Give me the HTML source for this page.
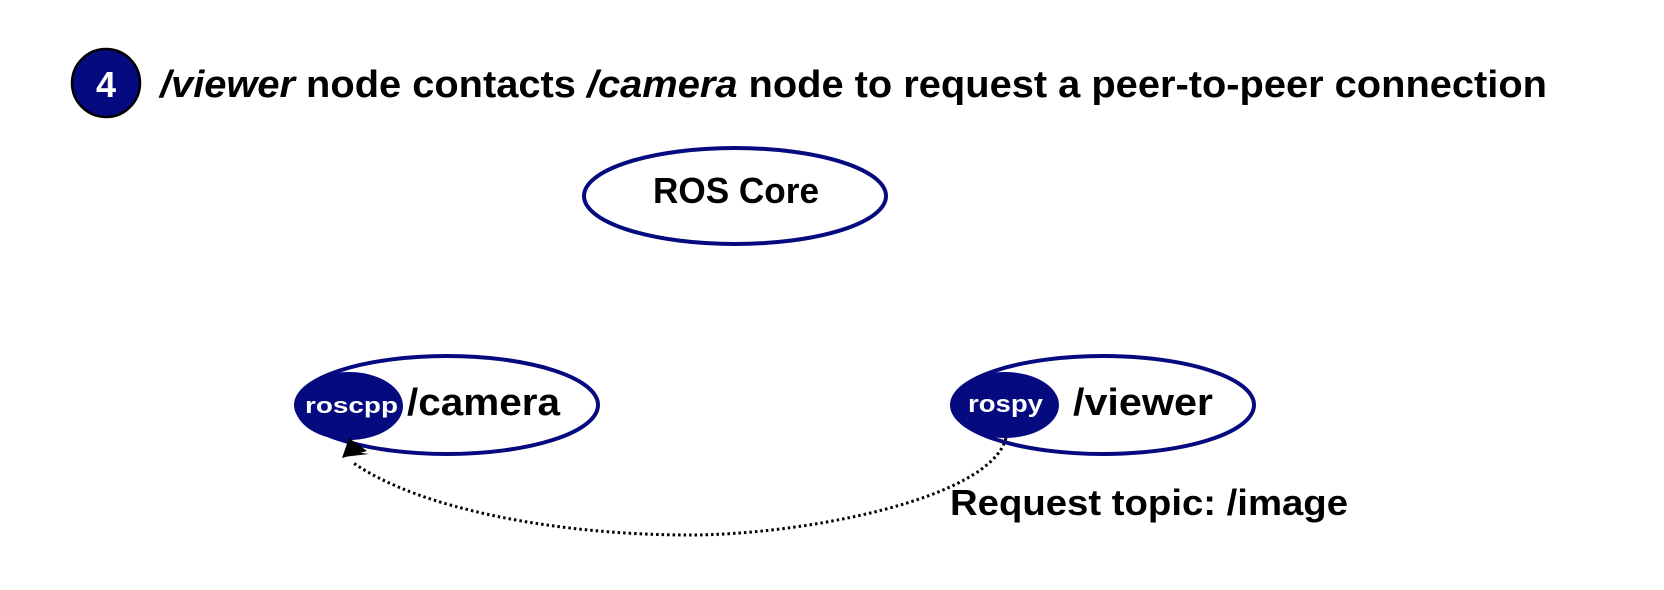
<!DOCTYPE html>
<html><head><meta charset="utf-8"><style>html,body{margin:0;padding:0;background:#fff;}svg{display:block}</style></head>
<body>
<svg width="1664" height="590" viewBox="0 0 1664 590" xmlns="http://www.w3.org/2000/svg">
<defs><marker id="ah" markerWidth="10" markerHeight="10" refX="9" refY="5" orient="auto" markerUnits="userSpaceOnUse"><path d="M0,0 L0,0"/></marker></defs>
<circle cx="106" cy="83" r="34" fill="#050A7E" stroke="#000" stroke-width="2.5"/>
<text x="106" y="97" text-anchor="middle" font-family="Liberation Sans, sans-serif" font-weight="bold" font-size="36" fill="#fff">4</text>
<text x="160" y="97" font-family="Liberation Sans, sans-serif" font-weight="bold" font-size="38" fill="#000" textLength="1387" lengthAdjust="spacingAndGlyphs"><tspan font-style="italic">/viewer</tspan> node contacts <tspan font-style="italic">/camera</tspan> node to request a peer-to-peer connection</text>

<ellipse cx="735" cy="196" rx="151" ry="48" fill="#fff" stroke="#050A7E" stroke-width="4"/>
<text x="653" y="203" font-family="Liberation Sans, sans-serif" font-weight="bold" font-size="36" textLength="166" lengthAdjust="spacingAndGlyphs">ROS Core</text>

<ellipse cx="447" cy="405" rx="151" ry="49" fill="#fff" stroke="#050A7E" stroke-width="4"/>
<ellipse cx="349" cy="406" rx="54" ry="34" fill="#050A7E"/>
<text x="305" y="413" font-family="Liberation Sans, sans-serif" font-weight="bold" font-size="22" fill="#fff" textLength="93" lengthAdjust="spacingAndGlyphs">roscpp</text>
<text x="407" y="415" font-family="Liberation Sans, sans-serif" font-weight="bold" font-size="38" textLength="153" lengthAdjust="spacingAndGlyphs">/camera</text>

<ellipse cx="1103" cy="405" rx="151" ry="49" fill="#fff" stroke="#050A7E" stroke-width="4"/>
<ellipse cx="1005" cy="405" rx="54" ry="33" fill="#050A7E"/>
<text x="968" y="412" font-family="Liberation Sans, sans-serif" font-weight="bold" font-size="24" fill="#fff" textLength="75" lengthAdjust="spacingAndGlyphs">rospy</text>
<text x="1073" y="415" font-family="Liberation Sans, sans-serif" font-weight="bold" font-size="38" textLength="140" lengthAdjust="spacingAndGlyphs">/viewer</text>

<path d="M1006,438 C990,500 800,535 690,535 C560,535 420,510 352,462" fill="none" stroke="#000" stroke-width="3" stroke-dasharray="2.5,3"/>
<path d="M343,457 L362,443 L355,452 L369,454 Z" fill="#000"/>
<path d="M342,458 L349,438 L367,451 Z" fill="#000"/>

<text x="950" y="515" font-family="Liberation Sans, sans-serif" font-weight="bold" font-size="36" textLength="398" lengthAdjust="spacingAndGlyphs">Request topic: /image</text>
</svg>
</body></html>
